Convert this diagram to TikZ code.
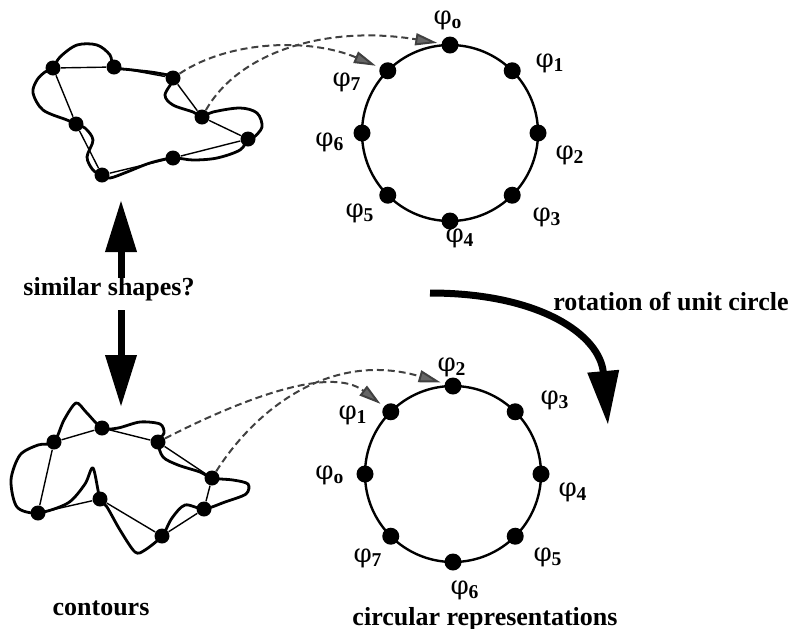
\documentclass[tikz,border=0pt]{standalone}
\usepackage{fontspec}
\setmainfont{Liberation Serif}
\newfontfamily\phifont{DejaVu Serif}
\usetikzlibrary{arrows.meta}

\begin{document}
\begin{tikzpicture}[x=0.5pt,y=-0.5pt,
  vtx/.style={circle, fill, inner sep=0pt, minimum size=7.5pt},
  dot/.style={circle, fill, inner sep=0pt, minimum size=8.5pt},
  outline/.style={line width=1.4pt, line join=round},
  edge/.style={line width=0.7pt},
  ring/.style={line width=1.2pt},
  link/.style={black!75, line width=1pt, dash pattern=on 3.5pt off 2pt, shorten >=2pt,
    -{Triangle[length=11pt,width=6pt,fill=black!60]}},
  fat/.style={line width=3.5pt, -{Triangle[length=26pt,width=15pt]}},
  lbl/.style={font=\fontsize{13}{15}\selectfont\bfseries},
  phi/.style={font=\fontsize{14}{16}\selectfont\bfseries, inner sep=0pt}]
\useasboundingbox (0,0) rectangle (793,628);

% upper contour
\foreach \n/\x/\y in {1/53/68, 2/114/67, 3/173/78, 4/202/117, 5/248/139, 6/173/158, 7/102/175, 8/76/124}
  \node[vtx] (a\n) at (\x,\y) {};
\draw[outline] plot[smooth cycle, tension=0.55] coordinates {
  (53,68) (60,57) (77,45) (97,45) (110,55) (114,67) (133,70) (157,73) (173,78)
  (165,95) (173,105) (193,112) (202,117) (213,112) (240,108) (257,113) (262,127)
  (253,138) (248,139) (240,150) (217,158) (193,160) (173,158) (150,163) (127,172)
  (110,178) (102,175) (93,170) (87,157) (93,140) (85,128) (76,124) (67,120)
  (43,110) (33,93) (37,80) (45,72)};
\draw[edge] (a1) -- (a2) -- (a3) -- (a4) -- (a5) -- (a6) -- (a7) -- (a8) -- (a1);

% lower contour
\foreach \n/\x/\y in {1/54/442, 2/102/428, 3/158/442, 4/212/478, 5/204/509, 6/162/536, 7/100/499, 8/38/513}
  \node[vtx] (b\n) at (\x,\y) {};
\draw[outline] plot[smooth cycle, tension=0.5] coordinates {
  (54,442) (64,420) (76,403) (86,412) (102,428) (118,428) (140,422) (160,424)
  (164,433) (158,442) (163,457) (178,465) (200,472) (212,478) (233,480) (248,484)
  (246,494) (225,502) (204,509) (185,505) (172,518) (162,536) (145,550) (135,552)
  (120,530) (107,507) (100,499) (93,468) (85,484) (68,503) (38,513) (17,507)
  (11,480) (20,455) (38,445)};
\draw[edge] (b1) -- (b2) -- (b3) -- (b4) -- (b5) -- (b6) -- (b7) -- (b8) -- (b1);

% circular representations
\coordinate (topC) at (450,133);
\coordinate (botC) at (453,474);
\draw[ring] (topC) circle[radius=88];
\draw[ring] (botC) circle[radius=88];
\foreach \k in {0,...,7} {
  \node[dot] (p\k) at ([shift={({45*\k-90}:88)}]topC) {};
  \node[dot] (q\k) at ([shift={({45*\k-180}:88)}]botC) {};
}
\foreach \s/\x/\y in {o/448/20, 1/550/63, 2/570/155, 3/547/217, 4/460/238, 5/360/213, 6/330/142, 7/347/82}
  \node[phi] (lp\s) at (\x,\y) {{\phifont\mdseries\fontsize{13}{15}\selectfont φ}\textsubscript{\s}};
\foreach \s/\x/\y in {o/330/475, 1/353/415, 2/452/367, 3/555/400, 4/573/492, 5/548/557, 6/465/590, 7/368/558}
  \node[phi] (lq\s) at (\x,\y) {{\phifont\mdseries\fontsize{13}{15}\selectfont φ}\textsubscript{\s}};

% correspondences
\draw[link] (a3) .. controls (230,40) and (310,38) .. (p7);
\draw[link] (a4) .. controls (240,50) and (330,25) .. (p0);
\draw[link] (b3) .. controls (240,400) and (330,365) .. (q1);
\draw[link] (b4) .. controls (255,410) and (330,350) .. (q2);

% labels and arrows
\node[lbl] (simLabel) at (109,289) {similar shapes?};
\node[lbl] (rotLabel) at (671,301) {rotation of unit circle};
\node[lbl] (contLabel) at (101,608) {contours};
\node[lbl] (circLabel) at (485,619) {circular representations};
\coordinate (upFrom) at (121,278);
\coordinate (upTo) at (121,200);
\coordinate (downFrom) at (121,310);
\coordinate (downTo) at (121,407);
\draw[fat] (upFrom) -- (upTo);
\draw[fat] (downFrom) -- (downTo);
\coordinate (rotFrom) at (430,293);
\coordinate (rotTo) at (608,425);
\draw[line width=3.5pt, -{Triangle[length=27pt,width=15pt]}]
  (rotFrom) .. controls (540,293) and (600,335) .. (rotTo);
\end{tikzpicture}
\end{document}
